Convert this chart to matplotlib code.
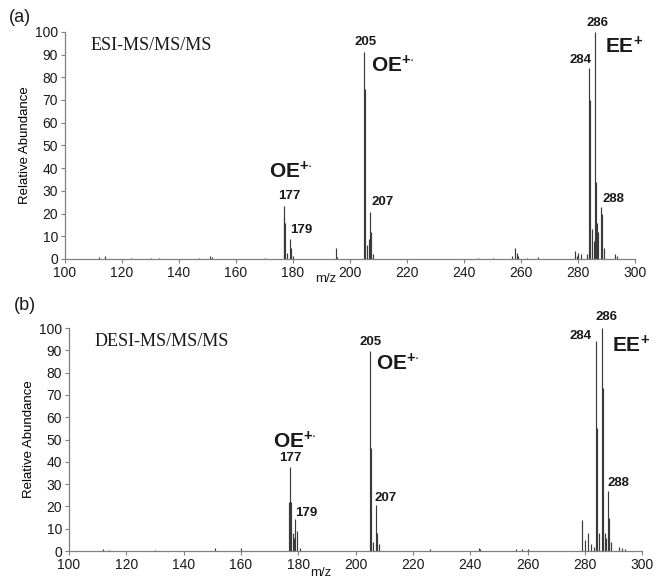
"""ESI vs DESI MS/MS/MS spectra, two stacked panels."""

import matplotlib
matplotlib.use("Agg")
import matplotlib.pyplot as plt

matplotlib.rcParams.update(
    {
        "font.family": "sans-serif",
        "font.sans-serif": ["Liberation Sans", "DejaVu Sans"],
        "mathtext.fontset": "custom",
        "mathtext.rm": "Liberation Sans",
        "mathtext.bf": "Liberation Sans:bold",
        "axes.spines.right": False,
        "axes.spines.top": False,
    }
)

SPINE_COLOR = "#808080"
PEAK_COLOR = "#3a3a3a"

# ---- panel (a): ESI-MS/MS/MS ----
esi_mz = [112, 114, 123, 130, 133, 147, 151, 151.6, 170,
          176.8, 177, 177.3, 178, 179, 179.4, 180,
          195, 195.5, 205, 205.3, 206, 206.5, 207, 207.4, 208,
          245, 250, 257, 258, 258.6, 259, 262, 266,
          279, 279.5, 280, 281, 283, 284, 284.3, 285, 285.5,
          286, 286.3, 286.8, 287, 288, 288.4, 289, 293, 293.7]
esi_int = [1.0, 1.5, 0.4, 0.5, 0.6, 0.5, 1.5, 0.8, 0.4,
           18.5, 23.5, 16, 2.5, 8.7, 5, 1.2,
           4.7, 1.0, 91, 75, 6, 9, 20.7, 12, 2,
           0.5, 0.5, 1.5, 5, 2.5, 1.5, 0.5, 0.8,
           3.5, 1.5, 2.5, 2, 2, 84, 70, 13, 8,
           100, 34, 16, 12, 23, 20, 5, 2, 1.5]

# ---- panel (b): DESI-MS/MS/MS ----
desi_mz = [112, 114, 130, 151, 160,
           176.8, 177, 177.3, 178, 178.5, 179, 179.4, 180.5,
           205, 205.3, 206, 207, 207.4, 208,
           226, 243, 243.5, 256, 258, 260,
           279, 280, 281, 282, 283, 284, 284.3, 285,
           286, 286.3, 287, 287.5, 288, 288.4, 289, 292, 293, 294]
desi_int = [1.0, 0.6, 0.5, 1.2, 1.5,
            22, 37.5, 22, 8, 6, 14.5, 9, 1.2,
            89.5, 46, 4, 20.5, 8, 3,
            1, 1.5, 1, 0.8, 1, 1,
            14, 5, 8, 3, 2, 94, 55, 8,
            100, 73, 8, 6, 27, 15, 4, 2, 1.2, 0.8]

x_ticks = [100, 120, 140, 160, 180, 200, 220, 240, 260, 280, 300]
y_ticks = [0, 10, 20, 30, 40, 50, 60, 70, 80, 90, 100]

OE = r"$\mathbf{OE}^{\mathbf{+}{\cdot}}$"
EE = r"$\mathbf{EE}^{\mathbf{+}}$"

# (text, x, y, size) in data coordinates
esi_labels = [
    (OE, 179.3, 38.5, 15), ("177", 178.6, 27.5, 9.5), ("179", 183.0, 12.8, 9.5),
    ("205", 205.4, 95.7, 9.5), (OE, 215.0, 85.0, 15), ("207", 211.6, 25.0, 9.5),
    ("284", 280.9, 87.7, 9.5), ("286", 286.8, 103.7, 9.5), (EE, 296.3, 93.5, 15),
    ("288", 292.3, 26.6, 9.5),
]
desi_labels = [
    (OE, 178.9, 49.0, 15), ("177", 177.1, 41.5, 9.5), ("179", 182.7, 17.1, 9.5),
    ("205", 205.1, 93.7, 9.5), (OE, 214.8, 84.0, 15), ("207", 210.6, 23.9, 9.5),
    ("284", 278.5, 96.4, 9.5), ("286", 287.4, 105.0, 9.5), (EE, 296.2, 92.0, 15),
    ("288", 291.6, 30.6, 9.5),
]


def draw_panel(ax, mz, inten, labels, title, mz_xy):
    ax.vlines(mz, 0, inten, color=PEAK_COLOR, linewidth=0.85)
    ax.set_xlim(100, 300)
    ax.set_ylim(0, 100)
    ax.set_xticks(x_ticks)
    ax.set_yticks(y_ticks)
    ax.tick_params(direction="out", length=3, width=0.8, color=SPINE_COLOR,
                   labelsize=10, pad=2, labelcolor="#1a1a1a")
    for s in ("left", "bottom"):
        ax.spines[s].set_color(SPINE_COLOR)
        ax.spines[s].set_linewidth(0.9)
    ax.set_ylabel("Relative Abundance", fontsize=9.5, labelpad=3)
    for txt, x, y, size in labels:
        ax.text(x, y, txt, fontsize=size, fontweight="bold", ha="center",
                va="center", color="#1a1a1a", clip_on=False)
    ax.text(0.045, 0.94, title, transform=ax.transAxes, fontsize=13,
            family="Liberation Serif", va="center", color="#1a1a1a")
    ax.text(mz_xy[0], mz_xy[1], "m/z", transform=ax.transAxes, fontsize=9.5,
            ha="center", va="top", color="#1a1a1a")


fig = plt.figure(figsize=(6.54, 5.78), dpi=100)
ax_a = fig.add_axes([0.0994, 0.552, 0.8716, 0.393])
ax_b = fig.add_axes([0.1055, 0.0467, 0.8765, 0.3858])

draw_panel(ax_a, esi_mz, esi_int, esi_labels, "ESI-MS/MS/MS", (0.458, -0.062))
draw_panel(ax_b, desi_mz, desi_int, desi_labels, "DESI-MS/MS/MS", (0.44, -0.072))

fig.text(0.031, 0.969, "(a)", fontsize=13, ha="center", va="center", color="#1a1a1a")
fig.text(0.038, 0.472, "(b)", fontsize=13, ha="center", va="center", color="#1a1a1a")

fig.savefig("out.png", dpi=100)
